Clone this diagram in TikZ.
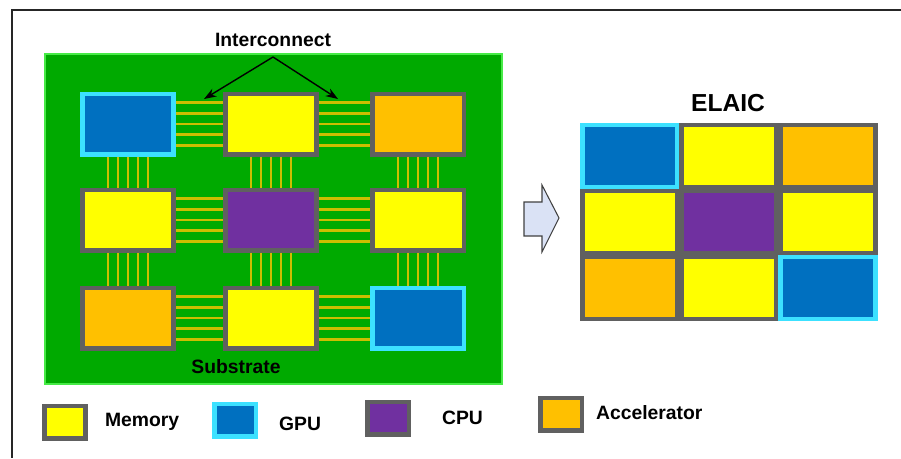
\documentclass[tikz,border=0pt]{standalone}
\usepackage{fontspec}
\setmainfont{Liberation Sans}
\usetikzlibrary{positioning, shadows, arrows.meta}

\definecolor{subgreen}{RGB}{0,170,0}
\definecolor{subedge}{RGB}{70,235,70}
\definecolor{memyellow}{RGB}{255,255,0}
\definecolor{gpublue}{RGB}{0,112,192}
\definecolor{gpucyan}{RGB}{60,225,255}
\definecolor{cpupurple}{RGB}{112,48,160}
\definecolor{accorange}{RGB}{255,192,0}
\definecolor{chipgray}{RGB}{96,96,96}
\definecolor{wiregold}{RGB}{205,190,0}
\definecolor{arrowfill}{RGB}{218,226,245}

\tikzset{
  chip/.style={draw=chipgray, line width=0.09cm, minimum width=1.83cm, minimum height=1.21cm, inner sep=0pt,
    drop shadow={shadow xshift=1pt, shadow yshift=-1pt, opacity=.3}},
  mem/.style={chip, fill=memyellow},
  gpu/.style={chip, fill=gpublue, draw=gpucyan},
  cpu/.style={chip, fill=cpupurple},
  acc/.style={chip, fill=accorange},
  cell/.style={minimum width=1.9cm, minimum height=1.24cm},
  key/.style={minimum width=0.83cm, minimum height=0.65cm},
  wire/.style={wiregold, line width=0.05cm},
  lbl/.style={font=\bfseries\fontsize{11}{13}\selectfont, inner sep=1pt},
  pointer/.style={-{Stealth[length=7pt,width=5pt]}, line width=0.8pt},
}

\begin{document}
\begin{tikzpicture}[x=0.02cm, y=-0.02cm]

    \useasboundingbox (0,0) rectangle (901,458);
    \draw[line width=0.04cm, black!85] (901,10) -- (12,10) -- (12,458);

    \node (sub) [fill=subgreen, draw=subedge, line width=0.04cm, minimum width=9.14cm, minimum height=6.6cm] at (273.5,219) {};
    \node (tsub) [lbl] at (236,367) {Substrate};

    \node (g1) [gpu] at (128,124) {};
    \node (m1) [mem] at (271,124) {};
    \node (a1) [acc] at (418,124) {};
    \node (m2) [mem] at (128,220) {};
    \node (c1) [cpu] at (271,220) {};
    \node (m3) [mem] at (418,220) {};
    \node (a2) [acc] at (128,318) {};
    \node (m4) [mem] at (271,318) {};
    \node (g2) [gpu] at (418,318) {};

    \foreach \l/\r in {g1/m1, m1/a1, m2/c1, c1/m3, a2/m4, m4/g2}
      \foreach \k in {-2,...,2}
        \draw[wire] ([yshift=\k*0.214cm]\l.east) -- ([yshift=\k*0.214cm]\r.west);
    \foreach \t/\b in {g1/m2, m1/c1, a1/m3, m2/a2, c1/m4, m3/g2}
      \foreach \k in {-2,...,2}
        \draw[wire] ([xshift=\k*0.2cm]\t.south) -- ([xshift=\k*0.2cm]\b.north);

    \node (inter) [lbl] at (273,40) {Interconnect};
    \coordinate (fork) at (273,57);
    \coordinate (busL) at (204,99);
    \coordinate (busR) at (338,99);
    \draw[pointer] (fork) -- (busL);
    \draw[pointer] (fork) -- (busR);

    % block arrow
    \draw[fill=arrowfill, draw=black!75, line width=0.6pt, line join=miter]
      (524,202) -- (542,202) -- (542,185) -- (559,218) -- (542,252) -- (542,236) -- (524,236) -- cycle;

    \node (telaic) [lbl, font=\bfseries\fontsize{14}{16}\selectfont] at (728,103) {ELAIC};
    \node (eg1) [gpu, cell] at (630,156) {};
    \node (em1) [mem, cell] at (729,156) {};
    \node (ea1) [acc, cell] at (828,156) {};
    \node (em2) [mem, cell] at (630,222) {};
    \node (ec1) [cpu, cell] at (729,222) {};
    \node (em3) [mem, cell] at (828,222) {};
    \node (ea2) [acc, cell] at (630,288) {};
    \node (em4) [mem, cell] at (729,288) {};
    \node (eg2) [gpu, cell] at (828,288) {};

    \node (kmem) [mem, key] at (65,422) {};
    \node (tmem) [lbl, anchor=west] at (103,422) {Memory};
    \node (kgpu) [gpu, key] at (235,420) {};
    \node (tgpu) [lbl, anchor=west] at (277,424) {GPU};
    \node (kcpu) [cpu, key] at (388,418) {};
    \node (tcpu) [lbl, anchor=west] at (440,418) {CPU};
    \node (kacc) [acc, key] at (561,414) {};
    \node (tacc) [lbl, anchor=west] at (594,413) {Accelerator};

\end{tikzpicture}
\end{document}
